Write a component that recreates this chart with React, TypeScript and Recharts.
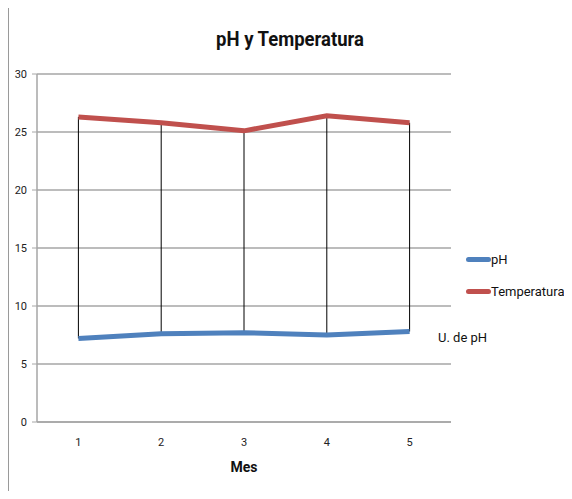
import {
  CartesianGrid,
  Line,
  LineChart,
  ReferenceLine,
  XAxis,
  YAxis,
} from 'recharts'

const months = ['1', '2', '3', '4', '5']
const phValues = [7.2, 7.6, 7.7, 7.5, 7.8]
const tempValues = [26.3, 25.8, 25.1, 26.4, 25.8]
const yTicks = [0, 5, 10, 15, 20, 25, 30]

const seriesNames = ['pH', 'Temperatura']
const seriesColors = ['#4f81bd', '#c0504d']

const data = months.map((mes, i) => ({
  mes,
  ph: phValues[i],
  temp: tempValues[i],
}))

const font = 'Roboto, "Noto Sans", sans-serif'

export default function App() {
  return (
    <div style={{ position: 'relative', width: 572, height: 499, margin: -8, fontFamily: font, background: '#fff' }}>
      {/* frame: only top and left edges show */}
      <div
        style={{
          position: 'absolute',
          left: 7,
          top: 6,
          right: 0,
          bottom: 0,
          borderTop: '2px solid #8c8c8c',
          borderLeft: '2px solid #9a9a9a',
        }}
      />
      <div
        style={{
          position: 'absolute',
          left: 0,
          width: 580,
          top: 27,
          textAlign: 'center',
          fontSize: 21,
          fontWeight: 'bold',
          color: '#111',
          transform: 'scaleX(0.88)',
        }}
      >
        pH y Temperatura
      </div>
      <div style={{ position: 'absolute', left: 0, top: 0 }}>
        <LineChart width={572} height={499} data={data} margin={{ top: 74, right: 121, bottom: 0, left: 0 }}>
          <CartesianGrid vertical={false} stroke="#a6a6a6" strokeWidth={1.5} />
          <XAxis
            dataKey="mes"
            height={77}
            tickLine={false}
            axisLine={{ stroke: '#a6a6a6', strokeWidth: 1.5 }}
            tickMargin={10}
            padding={{ left: 41.4, right: 41.4 }}
            tick={{ fontSize: 11, fill: '#222', fontFamily: font }}
            label={{ value: 'Mes', position: 'insideTop', offset: 40, fontSize: 14, fontWeight: 'bold', fill: '#111', fontFamily: font }}
          />
          <YAxis
            width={37}
            domain={[0, 30]}
            ticks={yTicks}
            tickSize={5}
            tickMargin={5}
            axisLine={{ stroke: '#a6a6a6', strokeWidth: 1.5 }}
            tickLine={{ stroke: '#a6a6a6' }}
            tick={{ fontSize: 11, fill: '#222', fontFamily: font }}
          />
          {data.map((d) => (
            <ReferenceLine
              key={d.mes}
              segment={[
                { x: d.mes, y: d.ph },
                { x: d.mes, y: d.temp },
              ]}
              stroke="#000"
              strokeWidth={1}
            />
          ))}
          <Line
            type="linear"
            dataKey="ph"
            name={seriesNames[0]}
            stroke={seriesColors[0]}
            strokeWidth={5}
            dot={false}
            isAnimationActive={false}
          />
          <Line
            type="linear"
            dataKey="temp"
            name={seriesNames[1]}
            stroke={seriesColors[1]}
            strokeWidth={5}
            dot={false}
            isAnimationActive={false}
          />
        </LineChart>
      </div>
      {seriesNames.map((name, i) => (
        <div
          key={name}
          style={{
            position: 'absolute',
            left: 466,
            top: 252 + i * 32,
            display: 'flex',
            alignItems: 'center',
            fontSize: 13,
            color: '#111',
          }}
        >
          <span style={{ display: 'inline-block', width: 25, height: 5, borderRadius: 3, background: seriesColors[i] }} />
          <span>{name}</span>
        </div>
      ))}
      <div style={{ position: 'absolute', left: 438, top: 330, fontSize: 13, color: '#111' }}>U. de pH</div>
    </div>
  )
}
